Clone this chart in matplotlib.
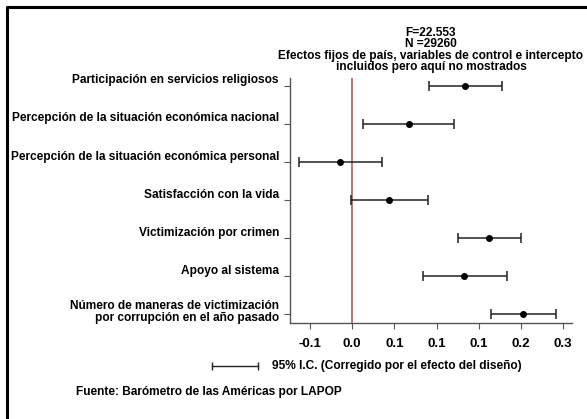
import numpy as np
import matplotlib
matplotlib.use("Agg")
import matplotlib.pyplot as plt
import matplotlib.transforms as mtransforms

plt.rcParams['font.family'] = ['Liberation Sans', 'DejaVu Sans']
plt.rcParams['font.weight'] = 'bold'

# variables (top to bottom)
labels = ["Participación en servicios religiosos",
          "Percepción de la situación económica nacional",
          "Percepción de la situación económica personal",
          "Satisfacción con la vida",
          "Victimización por crimen",
          "Apoyo al sistema",
          "Número de maneras de victimización\npor corrupción en el año pasado"]
coef = [0.134, 0.067, -0.014, 0.044, 0.162, 0.133, 0.202]
ci_low = [0.091, 0.013, -0.063, -0.001, 0.125, 0.084, 0.164]
ci_high = [0.178, 0.121, 0.036, 0.090, 0.200, 0.184, 0.241]

xticks = [-0.05, 0.0, 0.05, 0.10, 0.15, 0.20, 0.25]
xticklabels = ["-0.1", "0.0", "0.1", "0.1", "0.1", "0.2", "0.3"]

fs = 8.6
fig = plt.figure(figsize=(5.87, 4.19), dpi=100)
ax = fig.add_axes([290/587, 96.3/419, 282/587, 244.7/419])

n = len(labels)
ypos = np.arange(1, n + 1)
coef = np.array(coef)
err = [coef - np.array(ci_low), np.array(ci_high) - coef]

ax.axvline(0, color='#b86a6e', lw=1.3, zorder=1)
ax.errorbar(coef, ypos, xerr=err, fmt='o', color='black', ecolor='#222222',
            elinewidth=1.1, capsize=3.5, capthick=1.1, markersize=4, zorder=3)

ax.set_xlim(-0.0735, 0.2604)
ax.set_ylim(n + 0.22, 0.79)
ax.set_xticks(xticks)
ax.set_xticklabels(xticklabels, fontsize=9.5, fontweight='bold')
ax.set_yticks(ypos)
ax.set_yticklabels([])

# y labels drawn as text, sitting a bit above their tick
for i, lab in enumerate(labels):
    dy = 1.5 if '\n' in lab else 4
    tr = ax.get_yaxis_transform() + mtransforms.ScaledTranslation(-8 / 72, dy / 72, fig.dpi_scale_trans)
    ax.text(0, ypos[i], lab, transform=tr, ha='right', va='center', fontsize=fs,
            fontweight='bold', linespacing=0.95, multialignment='right')

for s in ['top', 'right']:
    ax.spines[s].set_visible(False)
for s in ['left', 'bottom']:
    ax.spines[s].set_color('#555555')
    ax.spines[s].set_linewidth(1.0)
ax.tick_params(axis='x', length=4, color='#555555', pad=7)
ax.tick_params(axis='y', length=4, color='#555555', pad=3)

tx = 431 / 587
fig.text(tx, 1 - 33/419, "F=22.553", ha='center', va='center', fontsize=fs, fontweight='bold')
fig.text(tx, 1 - 44/419, "N =29260", ha='center', va='center', fontsize=fs, fontweight='bold')
fig.text(tx, 1 - 56/419, "Efectos fijos de país, variables de control e intercepto",
         ha='center', va='center', fontsize=fs, fontweight='bold')
fig.text(tx, 1 - 67/419, "incluidos pero aquí no mostrados",
         ha='center', va='center', fontsize=fs, fontweight='bold')

# legend
fig.lines.append(plt.Line2D([212/587, 258/587], [1 - 366/419, 1 - 366/419],
                            transform=fig.transFigure, color='#222222', lw=1.0,
                            marker='|', markersize=6, markeredgewidth=1.0))
fig.text(272/587, 1 - 366/419, "95% I.C. (Corregido por el efecto del diseño)",
         ha='left', va='center', fontsize=fs, fontweight='bold')
fig.text(76/587, 1 - 392/419, "Fuente: Barómetro de las Américas por LAPOP",
         ha='left', va='center', fontsize=fs, fontweight='bold')

# outer frame (top and left only)
fig.lines.append(plt.Line2D([7/587, 7/587, 1.0], [0.0, 1 - 7/419, 1 - 7/419],
                            transform=fig.transFigure, color='black', lw=2.2))

fig.savefig("out.png", dpi=100)
